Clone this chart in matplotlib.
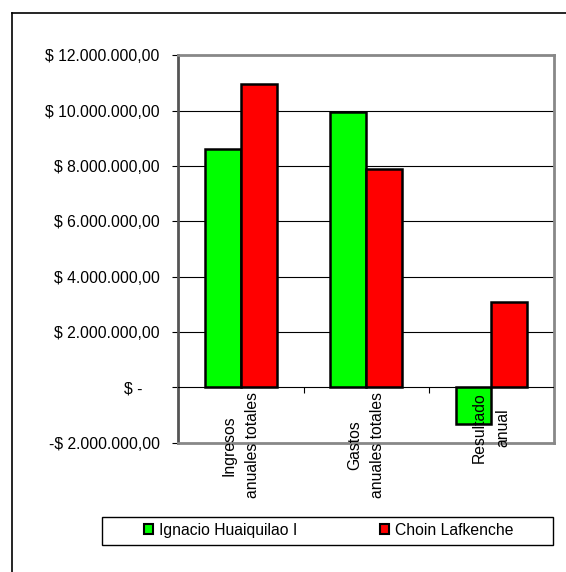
import matplotlib
matplotlib.use("Agg")
import matplotlib.pyplot as plt
import matplotlib.transforms as mtransforms
from matplotlib.patches import Patch, Rectangle
from matplotlib.lines import Line2D
import numpy as np

categories = ["Ingresos\nanuales totales", "Gastos\nanuales totales", "Resultado\nanual"]
series_names = ["Ignacio Huaiquilao I", "Choin Lafkenche"]
ignacio = [8630000, 9950000, -1320000]
choin = [10960000, 7880000, 3090000]
yticks = [-2000000, 0, 2000000, 4000000, 6000000, 8000000, 10000000, 12000000]
ytick_labels = ["-$ 2.000.000,00", "$ -    ", "$ 2.000.000,00", "$ 4.000.000,00",
                "$ 6.000.000,00", "$ 8.000.000,00", "$ 10.000.000,00", "$ 12.000.000,00"]
colors = ["#00FF00", "#FF0000"]

plt.rcParams['font.family'] = ['Liberation Sans', 'DejaVu Sans']
FS = 11.3

W, H = 566, 572
fig = plt.figure(figsize=(W / 100, H / 100), dpi=100)
fig.patch.set_facecolor("white")

# outer frame (left and top edges visible)
x0 = 11.7 / W
y0 = 1 - 12.7 / H
fig.add_artist(Line2D([x0, x0], [0, y0], transform=fig.transFigure, color="black", lw=1.2))
fig.add_artist(Line2D([x0, 1], [y0, y0], transform=fig.transFigure, color="black", lw=1.2))

left, right, top, bottom = 178.3, 554.0, 55.3, 442.7
ax = fig.add_axes([left / W, 1 - bottom / H, (right - left) / W, (bottom - top) / H])

x = np.arange(len(categories))
w = 1 / 3.5
ax.bar(x - w / 2, ignacio, w, color=colors[0], edgecolor="black", linewidth=1.8, zorder=3)
ax.bar(x + w / 2, choin, w, color=colors[1], edgecolor="black", linewidth=1.8, zorder=3)

ax.set_xlim(-0.5, len(categories) - 0.5)
ax.set_ylim(yticks[0], yticks[-1])
ax.set_yticks(yticks)
ax.set_yticklabels(ytick_labels, fontsize=FS)
ax.set_xticks([])

for t in yticks[2:-1]:
    ax.axhline(t, color="black", lw=0.8, zorder=1)
ax.axhline(0, color="black", lw=0.8, zorder=4)
ax.plot(x[:-1] + 0.5, [0] * (len(x) - 1), marker=3, markersize=4, linestyle="none",
        color="black", mew=0.8, zorder=4, clip_on=False)

for s in ["top", "right", "bottom"]:
    ax.spines[s].set_color("#888888")
    ax.spines[s].set_linewidth(2.0)
ax.spines["left"].set_color("#555555")
ax.spines["left"].set_linewidth(2.0)
ax.tick_params(axis="y", direction="out", length=4, width=0.8, color="black", pad=9.4)

off = mtransforms.offset_copy(ax.transData, fig=fig, x=0, y=-5, units="dots")
for i, lab in enumerate(categories):
    ax.text(i, 0, lab, transform=off, rotation=90, ha="center", va="top",
            multialignment="center", linespacing=1.72, fontsize=FS, zorder=5)

# legend box
lb_l, lb_r, lb_t, lb_b = 101.7, 553.3, 516.7, 545.0
fig.add_artist(Rectangle((lb_l / W, 1 - lb_b / H), (lb_r - lb_l) / W, (lb_b - lb_t) / H,
                         transform=fig.transFigure, facecolor="white", edgecolor="black", lw=1.0))
handles = [Patch(facecolor=c, edgecolor="black", linewidth=1.5) for c in colors]
fig.legend(handles, series_names, loc="center", bbox_to_anchor=(328.5 / W, 1 - 530.3 / H),
           ncol=2, frameon=False, fontsize=FS, handlelength=0.58, handleheight=0.58,
           handletextpad=0.375, columnspacing=5.25, borderpad=0, borderaxespad=0)

fig.savefig("out.png", dpi=100)
